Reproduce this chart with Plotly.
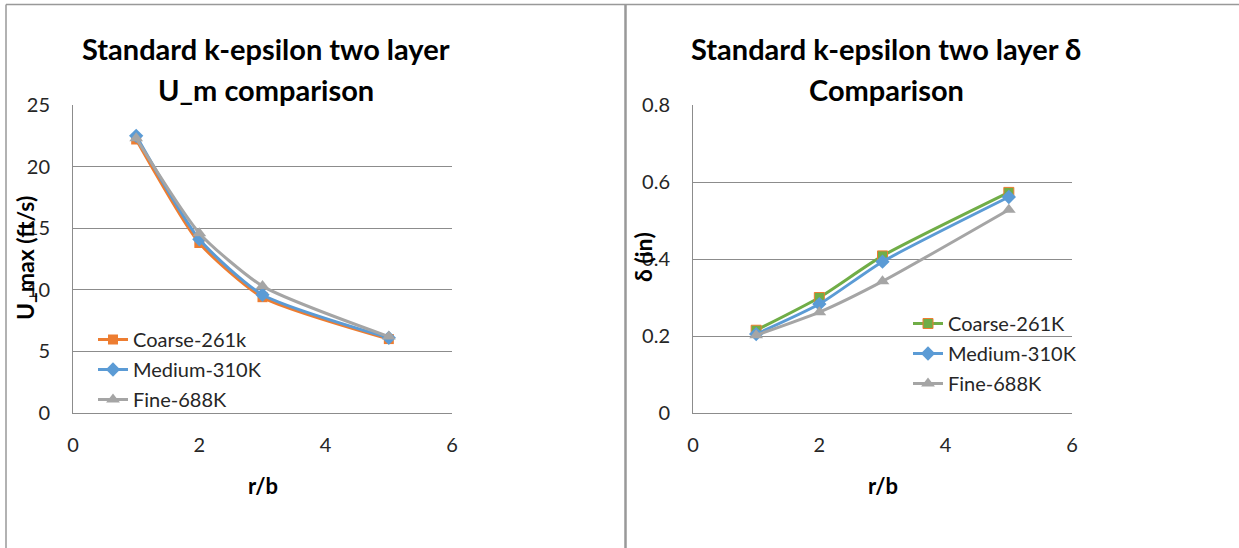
import plotly.graph_objects as go

# r/b stations
r_b = [1, 2, 3, 5]

# Maximum velocity U_max (ft/s) per mesh
um_coarse = [22.2, 13.8, 9.4, 6.0]
um_medium = [22.5, 14.1, 9.6, 6.1]
um_fine = [22.3, 14.6, 10.3, 6.2]

# Boundary layer thickness delta (in) per mesh
d_coarse = [0.215, 0.300, 0.408, 0.573]
d_medium = [0.205, 0.283, 0.393, 0.561]
d_fine = [0.202, 0.262, 0.342, 0.528]

left_names = ["Coarse-261k", "Medium-310K", "Fine-688K"]
right_names = ["Coarse-261K", "Medium-310K", "Fine-688K"]

delta_ticks = [0, 0.2, 0.4, 0.6, 0.8]
delta_ticktext = ["0", "0.2", "0.4", "0.6", "0.8"]

W, H = 1239, 548
FONT = "Lato"
ORANGE = "#ED7D31"
BLUE = "#5B9BD5"
GRAY = "#A5A5A5"
GREEN = "#70AD47"
GRID = "#8C8C8C"
FRAME = "#999999"
TXT = "#262626"


def px(x):
    return x / W


def py(y):
    return 1 - y / H


fig = go.Figure()

# Left chart: U_max
left_styles = [
    (um_coarse, ORANGE, dict(symbol="square", size=10, color=ORANGE)),
    (um_medium, BLUE, dict(symbol="diamond", size=11, color=BLUE)),
    (um_fine, GRAY, dict(symbol="triangle-up", size=12, color=GRAY)),
]
for i, (name, (vals, col, mk)) in enumerate(zip(left_names, left_styles)):
    fig.add_trace(go.Scatter(
        x=r_b, y=vals, name=name, mode="lines+markers",
        line=dict(color=col, width=3, shape="spline", smoothing=0.6),
        marker=mk, xaxis="x", yaxis="y", legend="legend",
        legendgroup=f"L{i}",
    ))

# Right chart: delta
right_styles = [
    (d_coarse, GREEN, dict(symbol="square", size=10, color=GREEN,
                           line=dict(color=ORANGE, width=1))),
    (d_medium, BLUE, dict(symbol="diamond", size=11, color=BLUE)),
    (d_fine, GRAY, dict(symbol="triangle-up", size=12, color=GRAY)),
]
for i, (name, (vals, col, mk)) in enumerate(zip(right_names, right_styles)):
    fig.add_trace(go.Scatter(
        x=r_b, y=vals, name=name, mode="lines+markers",
        line=dict(color=col, width=3, shape="spline", smoothing=0.6),
        marker=mk, xaxis="x2", yaxis="y2", legend="legend2",
        legendgroup=f"R{i}",
    ))

tickfont = dict(family=FONT, size=20, color=TXT)
common_x = dict(range=[0, 6], dtick=2, showgrid=False, zeroline=False,
                showline=True, linecolor=GRID, linewidth=1, automargin=False,
                tickfont=tickfont, ticks="", ticklabelstandoff=14)
common_y = dict(showgrid=True, gridcolor=GRID, gridwidth=1, zeroline=False,
                showline=True, linecolor=GRID, linewidth=1, automargin=False,
                tickfont=tickfont, ticks="", ticklabelstandoff=18)

legend_font = dict(family=FONT, size=20, color=TXT)
ybot, ytop = py(413), py(105)
fig.update_layout(
    width=W, height=H,
    margin=dict(l=0, r=0, t=0, b=0, pad=0, autoexpand=False),
    paper_bgcolor="white", plot_bgcolor="white",
    font=dict(family=FONT, color="#000000"),
    xaxis=dict(domain=[px(73), px(452)], anchor="y", **common_x),
    yaxis=dict(domain=[ybot, ytop], anchor="x", range=[0, 25], dtick=5,
               **common_y),
    xaxis2=dict(domain=[px(693), px(1072)], anchor="y2", **common_x),
    yaxis2=dict(domain=[ybot, ytop], anchor="x2", range=[0, 0.8],
                tickvals=delta_ticks, ticktext=delta_ticktext, **common_y),
    legend=dict(x=px(93), y=py(320), xanchor="left", yanchor="top",
                bgcolor="rgba(0,0,0,0)", font=legend_font,
                tracegroupgap=1),
    legend2=dict(x=px(908), y=py(304), xanchor="left", yanchor="top",
                 bgcolor="rgba(0,0,0,0)", font=legend_font,
                 tracegroupgap=1),
    showlegend=True,
)

title_font = dict(family=FONT, size=29, color="#000000")
annotations = [
    dict(text="<b>Standard k-epsilon two layer</b>", x=px(266), y=py(48)),
    dict(text="<b>U_m comparison</b>", x=px(266), y=py(89)),
    dict(text="<b>Standard k-epsilon two layer δ</b>", x=px(886), y=py(48)),
    dict(text="<b>Comparison</b>", x=px(886), y=py(89)),
]
for a in annotations:
    fig.add_annotation(xref="paper", yref="paper", showarrow=False,
                       xanchor="center", yanchor="middle", font=title_font, **a)

axis_labels = [
    dict(text="<b>r/b</b>", x=px(263), y=py(485), textangle=0, size=22),
    dict(text="<b>r/b</b>", x=px(883), y=py(485), textangle=0, size=22),
    dict(text="<b>U_max (ft/s)</b>", x=px(25), y=py(258), textangle=-90,
         size=23),
    dict(text="<b>δ (in)</b>", x=px(643), y=py(257), textangle=-90, size=23),
]
for a in axis_labels:
    size = a.pop("size")
    fig.add_annotation(xref="paper", yref="paper", showarrow=False,
                       xanchor="center", yanchor="middle",
                       font=dict(family=FONT, size=size, color="#000000"), **a)

# Panel frames
frame_lines = [
    (px(6), py(4.5), px(W), py(4.5), 1.5),
    (px(6), py(4.5), px(6), py(H), 1.5),
    (px(625.5), py(4.5), px(625.5), py(H), 2.5),
]
for x0, y0, x1, y1, w in frame_lines:
    fig.add_shape(type="line", xref="paper", yref="paper",
                  x0=x0, y0=y0, x1=x1, y1=y1,
                  line=dict(color=FRAME, width=w))

fig.write_html("out.html")
